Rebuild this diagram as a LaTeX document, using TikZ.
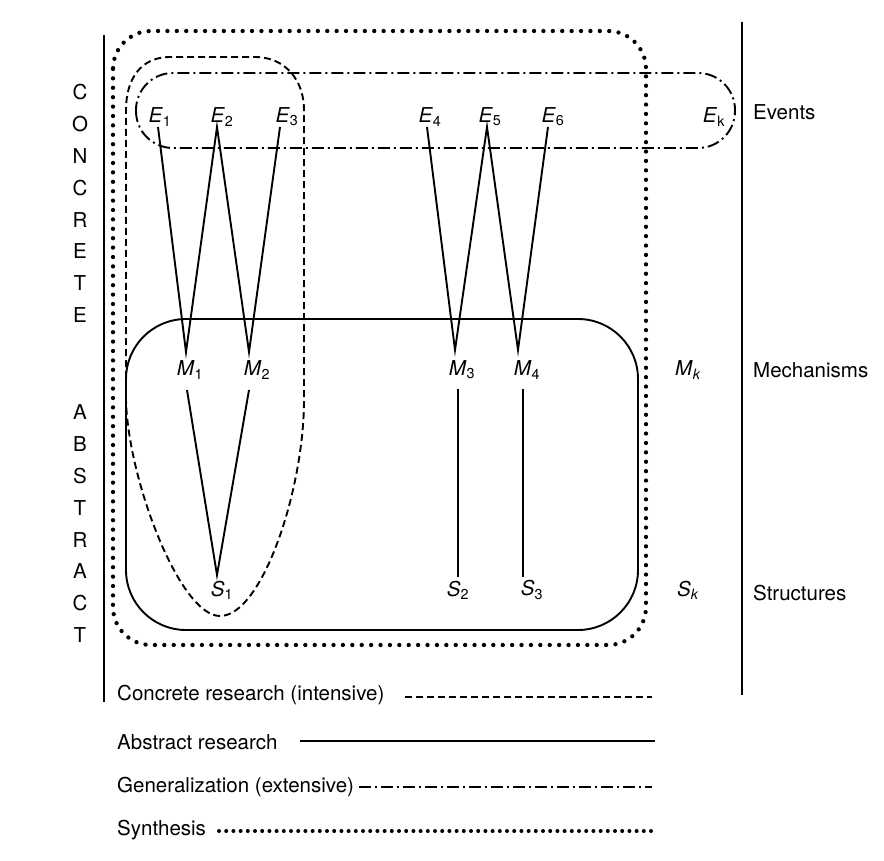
\documentclass[tikz,border=0pt]{standalone}
\usepackage{fontspec}
\setmainfont{TeX Gyre Heros}
\newcommand\lbl[2]{\textit{#1}\textsubscript{#2}}
\begin{document}
\begin{tikzpicture}[x=1pt,y=-1pt,
  every node/.style={font=\fontsize{20.5}{24}\selectfont, inner sep=0pt},
  solidln/.style={line width=1.9pt},
  dashln/.style={line width=1.9pt, dash pattern=on 7pt off 4pt},
  dashdotln/.style={line width=1.9pt, dash pattern=on 12pt off 4pt on 2pt off 4pt},
  dotln/.style={line width=4.3pt, line cap=round, dash pattern=on 0pt off 9.4pt},
  axisln/.style={line width=2pt},
  letter/.style={anchor=center}]
\useasboundingbox (0,0) rectangle (884,861);
\fill[white] (0,0) rectangle (884,861);

% axes
\coordinate (la) at (104,35);  \coordinate (lb) at (104,702);
\coordinate (ra) at (742,22);  \coordinate (rb) at (742,695);
\draw[axisln] (la) -- (lb);
\draw[axisln] (ra) -- (rb);

% CONCRETE / ABSTRACT
\foreach \ch [count=\i from 0] in {C,O,N,C,R,E,T,E}
  \node[letter] (c\i) at (80,{92+31.9*\i}) {\ch};
\foreach \ch [count=\i from 0] in {A,B,S,T,R,A,C,T}
  \node[letter] (a\i) at (80,{412+31.9*\i}) {\ch};

% synthesis (dotted)
\draw[dotln, rounded corners=38pt] (113,31) rectangle (646,645);
% generalization (dash-dot)
\draw[dashdotln, rounded corners=37pt] (136,73) rectangle (735,148);
% abstract research (solid)
\draw[solidln, rounded corners=60pt] (126,319) rectangle (638,630);
% concrete research (dashed)
\draw[dashln] (126,400) -- (126,110) .. controls (126,80) and (140,57) .. (170,57)
  -- (255,57) .. controls (285,57) and (304,80) .. (304,110)
  -- (304,400) .. controls (304,490) and (262,616) .. (220,616)
  .. controls (180,616) and (128,480) .. (126,400);

% labels
\node (E1) at (160,117) {\lbl{E}{1}};
\node (E2) at (222,117) {\lbl{E}{2}};
\node (E3) at (287,117) {\lbl{E}{3}};
\node (E4) at (430,117) {\lbl{E}{4}};
\node (E5) at (490,117) {\lbl{E}{5}};
\node (E6) at (553,117) {\lbl{E}{6}};
\node (Ek) at (714,117) {\lbl{E}{k}};
\node (M1) at (190,370) {\lbl{M}{1}};
\node (M2) at (257,370) {\lbl{M}{2}};
\node (M3) at (462,370) {\lbl{M}{3}};
\node (M4) at (527,370) {\lbl{M}{4}};
\node (Mk) at (688,370) {\lbl{M}{\textit{k}}};
\node (S1) at (222,590) {\lbl{S}{1}};
\node (S2) at (458,590) {\lbl{S}{2}};
\node (S3) at (532,590) {\lbl{S}{3}};
\node (Sk) at (688,590) {\lbl{S}{\textit{k}}};
\node[anchor=west] (ev) at (753,112) {Events};
\node[anchor=west] (me) at (753,370) {Mechanisms};
\node[anchor=west] (st) at (753,593) {Structures};

% connector end points
\coordinate (e1) at (158,127);
\coordinate (e2) at (217,127);
\coordinate (e3) at (280,127);
\coordinate (e4) at (427,127);
\coordinate (e5) at (487,127);
\coordinate (e6) at (548,127);
\coordinate (m1t) at (186,352);
\coordinate (m2t) at (249,352);
\coordinate (m3t) at (455,350);
\coordinate (m4t) at (518,350);
\coordinate (m1b) at (187,390);
\coordinate (m2b) at (249,390);
\coordinate (m3b) at (458,389);
\coordinate (m4b) at (523,389);
\coordinate (s1) at (217,575);
\coordinate (s2) at (458,577);
\coordinate (s3) at (523,577);

\draw[solidln] (e1) -- (m1t) -- (e2) -- (m2t) -- (e3);
\draw[solidln] (m1b) -- (s1) -- (m2b);
\draw[solidln] (e4) -- (m3t) -- (e5) -- (m4t) -- (e6);
\draw[solidln] (m3b) -- (s2);
\draw[solidln] (m4b) -- (s3);

% legend
\node[anchor=west] (L1) at (117,695) {Concrete research (intensive)};
\node[anchor=west] (L2) at (117,742) {Abstract research};
\node[anchor=west] (L3) at (117,787) {Generalization (extensive)};
\node[anchor=west] (L4) at (117,830) {Synthesis};
\coordinate (L1a) at (405,697); \coordinate (L1b) at (652,697);
\coordinate (L2a) at (300,741); \coordinate (L2b) at (655,741);
\coordinate (L3a) at (359,787); \coordinate (L3b) at (652,787);
\coordinate (L4a) at (219,831); \coordinate (L4b) at (652,831);
\draw[dashln] (L1a) -- (L1b);
\draw[solidln] (L2a) -- (L2b);
\draw[dashdotln] (L3a) -- (L3b);
\draw[dotln, line width=4pt, dash pattern=on 0pt off 7.2pt] (L4a) -- (L4b);
\end{tikzpicture}
\end{document}
